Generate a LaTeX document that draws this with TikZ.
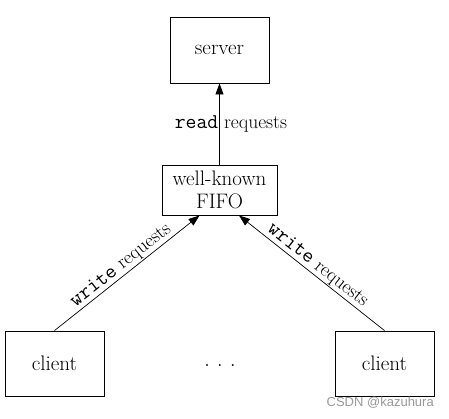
\documentclass[tikz,border=0pt]{standalone}
\usepackage{fontspec}
\newfontfamily\wmfont{Liberation Sans}
\usetikzlibrary{arrows.meta}
\newcommand{\mytt}[1]{{\fontsize{21}{22}\selectfont\ttfamily #1}}
\begin{document}
\begin{tikzpicture}[x=1pt,y=-1pt,
  box/.style={draw,line width=0.9pt,inner sep=0pt,align=center,font=\fontsize{21}{23}\selectfont},
  conn/.style={line width=0.7pt,-{Triangle[length=11pt,width=8pt]}},
  lbl/.style={font=\fontsize{19.5}{21}\selectfont,inner sep=1pt}]
\useasboundingbox (0,0) rectangle (449,418);
\node[box,minimum width=99pt,minimum height=66pt] (server) at (219.5,50) {server};
\node[box,minimum width=115pt,minimum height=50pt] (fifo) at (219.5,190) {well-known\\FIFO};
\node[box,minimum width=99pt,minimum height=65pt] (lc) at (54.5,363.5) {client};
\node[box,minimum width=99pt,minimum height=65pt] (rc) at (384.5,363.5) {client};
\node[font=\fontsize{24}{26}\selectfont] (dots) at (220,366) {.\hspace{7pt}.\hspace{7pt}.};
\coordinate (fl) at ([xshift=-20pt]fifo.south);
\coordinate (fr) at ([xshift=19.5pt]fifo.south);
\draw[conn] (fifo.north) -- (server.south);
\node[lbl] (rdlbl) at (231,124) {\mytt{read} requests};
\draw[conn] (lc.north) -- (fl) node[lbl,midway,sloped,above] (wl) {\mytt{write} requests};
\draw[conn] (rc.north) -- (fr) node[lbl,midway,sloped,above] (wr) {\mytt{write} requests};
\node[font=\wmfont\fontsize{13}{15}\selectfont,text=black!40,anchor=east,inner sep=0pt] (wm) at (434,403) {CSDN @kazuhura};
\end{tikzpicture}
\end{document}
